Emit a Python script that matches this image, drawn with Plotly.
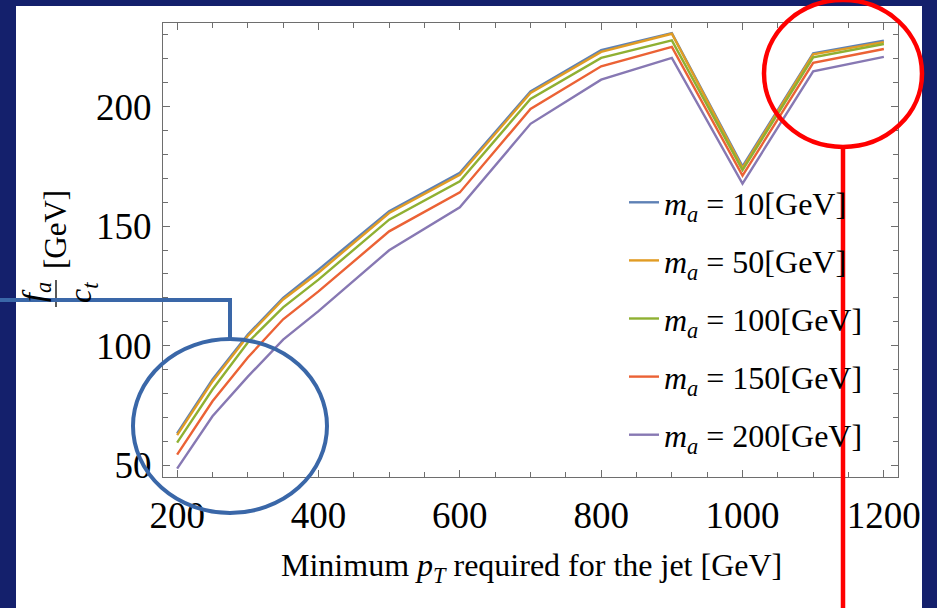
import plotly.graph_objects as go

pt_min = [200, 250, 300, 350, 400, 500, 600, 700, 800, 900, 1000, 1100, 1200]
series_names = ["10", "50", "100", "150", "200"]
fa_ma10 = [63.2, 85.8, 104.6, 120.0, 131.8, 156.2, 172.3, 206.4, 223.6, 230.8, 175.0, 222.3, 227.6]
fa_ma50 = [62.5, 85.0, 104.0, 119.3, 130.5, 155.5, 171.5, 205.7, 222.9, 230.5, 174.3, 221.9, 227.0]
fa_ma100 = [59.4, 81.6, 101.3, 116.0, 127.6, 152.7, 168.8, 203.2, 220.4, 227.7, 173.4, 220.6, 226.2]
fa_ma150 = [54.4, 76.7, 95.0, 111.0, 122.7, 147.8, 164.1, 199.0, 216.9, 225.0, 171.1, 218.3, 224.1]
fa_ma200 = [48.5, 70.4, 87.0, 102.5, 114.4, 139.9, 157.9, 192.8, 211.3, 220.4, 167.8, 214.8, 220.8]
series_values = [fa_ma10, fa_ma50, fa_ma100, fa_ma150, fa_ma200]
colors = ["#5E81B5", "#E19C24", "#8FB032", "#EB6235", "#8778B3"]
x_ticks = [200, 400, 600, 800, 1000, 1200]
y_ticks = [50, 100, 150, 200]

W, H = 937, 608
L, R, T, B = 163, 898, 23, 477
pw, ph = R - L, B - T


def px(x):
    return (x - L) / pw


def py(y):
    return (B - y) / ph


FONT = "Liberation Serif"

fig = go.Figure()
for name, vals, col in zip(series_names, series_values, colors):
    fig.add_trace(go.Scatter(
        x=pt_min, y=vals, mode="lines",
        line=dict(color=col, width=2.4),
        name=f"<i>m</i><sub><i>a</i></sub> = {name}[GeV]",
        legendgroup=name,
    ))

axis_common = dict(
    showline=True, linecolor="#6e6e6e", linewidth=1.2, mirror="allticks",
    ticks="inside", tickcolor="#6e6e6e", ticklen=7, tickwidth=1,
    showgrid=False, zeroline=False,
    tickfont=dict(family=FONT, size=37, color="black"),
)
fig.update_xaxes(
    range=[180, 1220], tickvals=x_ticks,
    minor=dict(dtick=50, ticks="inside", ticklen=5, tickcolor="#6e6e6e"),
    ticklabelstandoff=5,
    **axis_common,
)
fig.update_yaxes(
    range=[45, 235], tickvals=y_ticks,
    minor=dict(dtick=10, ticks="inside", ticklen=5, tickcolor="#6e6e6e"),
    ticklabelstandoff=3,
    **axis_common,
)

shapes = []
# white panel
shapes.append(dict(type="rect", xref="paper", yref="paper",
                   x0=px(16), x1=px(922), y0=py(608), y1=py(6),
                   fillcolor="white", line=dict(width=0), layer="below"))
# y-title fraction bar
shapes.append(dict(type="line", xref="paper", yref="paper",
                   x0=px(56), x1=px(56), y0=py(307), y1=py(280),
                   line=dict(color="black", width=1.3)))
# blue highlight ellipse and connector
shapes.append(dict(type="circle", xref="paper", yref="paper",
                   x0=px(133), x1=px(327), y0=py(513), y1=py(339),
                   line=dict(color="#3a67a8", width=4), layer="above"))
shapes.append(dict(type="path", xref="paper", yref="paper",
                   path=f"M {px(-5)},{py(300)} L {px(230)},{py(300)} L {px(230)},{py(339)}",
                   line=dict(color="#3a67a8", width=4), layer="above"))
# red highlight ellipse and line
shapes.append(dict(type="circle", xref="paper", yref="paper",
                   x0=px(764), x1=px(922), y0=py(147), y1=py(0),
                   line=dict(color="#ff0000", width=4.5), layer="above"))
shapes.append(dict(type="line", xref="paper", yref="paper",
                   x0=px(843), x1=px(843), y0=py(147), y1=py(615),
                   line=dict(color="#ff0000", width=4.5), layer="above"))

annotations = [
    dict(text="Minimum <i>p</i><sub><i>T</i></sub> required for the jet [GeV]",
         xref="paper", yref="paper", x=px(531), y=py(567),
         xanchor="center", yanchor="middle", showarrow=False,
         font=dict(family=FONT, size=32, color="black")),
    dict(text="<i>f</i><sub><i>a</i></sub>", xref="paper", yref="paper",
         x=px(35), y=py(292), textangle=-90, xanchor="center", yanchor="middle",
         showarrow=False, font=dict(family=FONT, size=32, color="black")),
    dict(text="<i>c</i><sub><i>t</i></sub>", xref="paper", yref="paper",
         x=px(82), y=py(293), textangle=-90, xanchor="center", yanchor="middle",
         showarrow=False, font=dict(family=FONT, size=32, color="black")),
    dict(text="[GeV]", xref="paper", yref="paper",
         x=px(55), y=py(229), textangle=-90, xanchor="center", yanchor="middle",
         showarrow=False, font=dict(family=FONT, size=31, color="black")),
]

fig.update_layout(
    width=W, height=H,
    margin=dict(l=L, r=W - R, t=T, b=H - B),
    paper_bgcolor="#14206c", plot_bgcolor="white",
    shapes=shapes, annotations=annotations,
    showlegend=True,
    legend=dict(x=px(624), y=py(175), xanchor="left", yanchor="top",
                bgcolor="rgba(0,0,0,0)", tracegroupgap=13.5,
                font=dict(family=FONT, size=32, color="black"),
                itemwidth=30),
)

fig.write_html("out.html")
